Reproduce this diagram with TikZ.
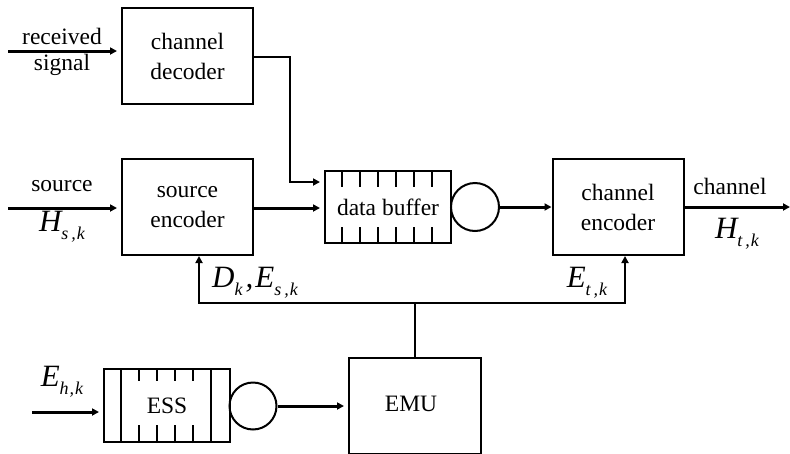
\documentclass[tikz,border=0pt]{standalone}
\usepackage{fontspec}
\setmainfont{Liberation Serif}
\usetikzlibrary{arrows.meta,calc}
% large italic symbol with a lowered subscript
\newcommand\symsub[2]{{\fontsize{31}{31}\selectfont\itshape #1}\raisebox{-8pt}{\fontsize{18}{18}\selectfont\itshape #2}}
\begin{document}
\begin{tikzpicture}[x=1pt,y=-1pt,
  txt/.style={font=\fontsize{23.5}{30}\selectfont, inner sep=0pt, align=center},
  blk/.style={txt, draw, line width=2pt, minimum width=131pt, minimum height=96pt},
  buf/.style={txt, draw, line width=2pt, minimum width=126pt, minimum height=72pt},
  srv/.style={circle, draw, line width=2pt, minimum size=48pt, inner sep=0pt},
  tip/.style={-{Triangle[length=7pt,width=7pt]}},
  sig/.style={tip, line width=3pt},
  thin/.style={tip, line width=2pt},
  ]
\clip (0,0) rectangle (790,453);

% blocks
\node[blk] (dec)  at (187.5,56)  {channel\\decoder};
\node[blk] (senc) at (187.5,207) {source\\encoder};
\node[blk] (cenc) at (618,207)   {channel\\encoder};
\node[blk, minimum width=132pt] (emu) at (415,406) {};
\node[txt] (emutxt) at (411,404) {EMU};

% data buffer with its slots
\node[buf] (dbuf) at (388,207) {data buffer};
\foreach \i in {1,...,6}{
  \draw[line width=2pt] ($(dbuf.north west)+(18*\i,0)$) -- ++(0,17);
  \draw[line width=2pt] ($(dbuf.south west)+(18*\i,0)$) -- ++(0,-17);
}
\node[srv] (dsrv) at (475,207) {};

% energy storage with its slots
\node[buf, minimum height=73pt] (ess) at (167,405.5) {};
\node[txt] (esstxt) at (167,406) {ESS};
\draw[line width=2pt] ($(ess.north west)+(18,0)$) -- ($(ess.south west)+(18,0)$);
\draw[line width=2pt] ($(ess.north west)+(108,0)$) -- ($(ess.south west)+(108,0)$);
\foreach \i in {2,...,5}{
  \draw[line width=2pt] ($(ess.north west)+(18*\i,0)$) -- ++(0,13);
  \draw[line width=2pt] ($(ess.south west)+(18*\i,0)$) -- ++(0,-18);
}
\node[srv, minimum size=47pt] (esrv) at (253,406) {};

% inputs
\coordinate (rin) at (8,51);
\coordinate (sin) at (8,208);
\coordinate (hin) at (32,412);
\draw[sig, shorten >=4pt] (rin) -- (rin -| dec.west);
\draw[sig, shorten >=4pt] (sin) -- (sin -| senc.west);
\draw[sig, shorten >=4pt] (hin) -- (hin -| ess.west);
\node[txt] (lrec) at (62,36) {received};
\node[txt] (lsig) at (62,65) {signal};
\node[txt] (lsrc) at (62,186) {source};
\node[inner sep=0pt] (lhs) at (62,227) {\symsub{H}{s\kern3pt,\kern1pt k}};
\node[inner sep=0pt] (lhe) at (62,382) {\symsub{E}{h\kern1pt,\kern1pt k}};

% data path
\coordinate (bend) at (290,57);
\draw[thin, shorten >=4pt] (dec.east |- bend) -- (bend) |- ($(dbuf.north west)+(0,12)$);
\draw[sig, shorten >=4pt] (senc.east |- sin) -- (sin -| dbuf.west);
\draw[sig] (dsrv.east) -- (cenc.west);
\coordinate (cout) at (790,207);
\draw[sig] (cenc.east) -- (cout);
\node[txt] (lch) at (730,186) {channel};
\node[inner sep=0pt] (lht) at (737,234) {\symsub{H}{t\kern3pt,\kern1pt k}};

% energy path
\draw[sig, shorten >=4pt] (esrv.east) -- (emu.west |- esrv.east);
\coordinate (fbl) at (199,303);
\coordinate (fbr) at (625,303);
\draw[line width=2pt] (emu.north) -- (emu.north |- fbl);
\draw[thin] (fbr -| emu.north) -- (fbr) -- (fbr |- cenc.south);
\draw[thin] (fbl -| emu.north) -- (fbl) -- (fbl |- senc.south);
\node[inner sep=0pt] (ldes) at (255,283) {\symsub{D}{k}\kern3pt{\fontsize{31}{31}\selectfont\itshape ,\kern2pt}\symsub{E}{s\kern3pt,\kern1pt k}};
\node[inner sep=0pt] (let) at (587,283) {\symsub{E}{t\kern3pt,\kern1pt k}};
\end{tikzpicture}
\end{document}
